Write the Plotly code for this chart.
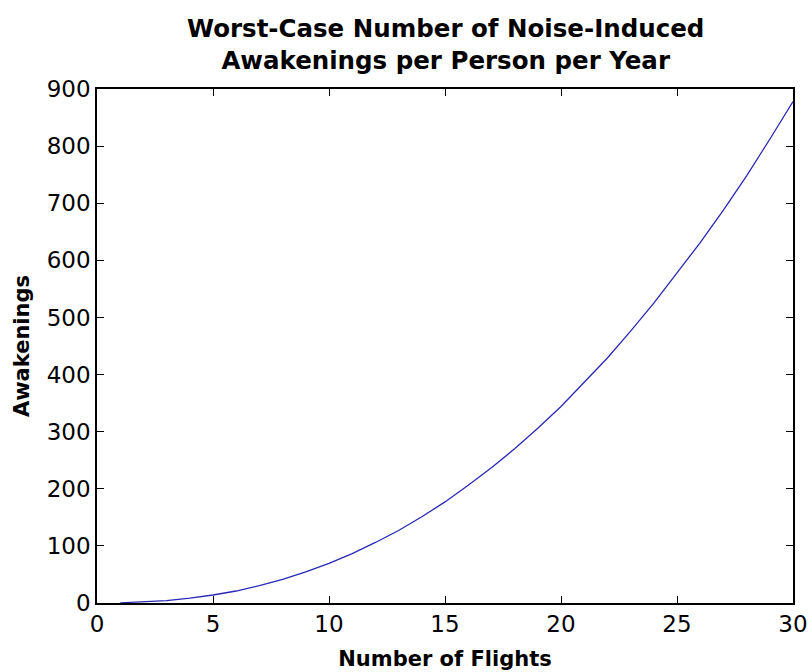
import plotly.graph_objects as go

flights = list(range(1, 31))
awakenings = [0.3, 1.7, 4.3, 8.4, 14, 21, 30.5, 41.5, 54.5, 69.5,
              86.5, 106, 127, 151, 177, 206, 237, 270, 306, 344,
              386, 429, 476, 525, 578, 631, 688, 748, 812, 878]

title_text = "Worst-Case Number of Noise-Induced<br>Awakenings per Person per Year"
x_title = "Number of Flights"
y_title = "Awakenings"

FONT = "DejaVu Sans"

fig = go.Figure()
fig.add_trace(go.Scatter(x=flights, y=awakenings, mode="lines",
                         line=dict(color="rgb(40,40,180)", width=1.3),
                         showlegend=False))

axis_common = dict(showgrid=False, zeroline=False, showline=True, linecolor="black",
                   linewidth=1.5, mirror="ticks", ticks="inside", ticklen=7,
                   tickwidth=1.2, tickcolor="black", automargin=False,
                   tickfont=dict(family=FONT, size=23, color="black"))

fig.update_layout(
    width=809, height=672,
    margin=dict(l=97, r=16, t=89, b=69),
    paper_bgcolor="white", plot_bgcolor="white",
    xaxis=dict(range=[0, 30], dtick=5, tick0=0,
               title=dict(text=x_title, standoff=15,
                          font=dict(family=FONT, size=21, color="black", weight="bold")),
               **axis_common),
    yaxis=dict(range=[0, 900], dtick=100, tick0=0,
               title=dict(text=y_title, standoff=11,
                          font=dict(family=FONT, size=21, color="black", weight="bold")),
               **axis_common),
)

fig.add_annotation(text=title_text, xref="paper", yref="paper", x=0.5, y=1,
                   xanchor="center", yanchor="bottom", yshift=12, showarrow=False,
                   align="center",
                   font=dict(family=FONT, size=24.5, color="black", weight="bold"))

fig.write_html("out.html")
